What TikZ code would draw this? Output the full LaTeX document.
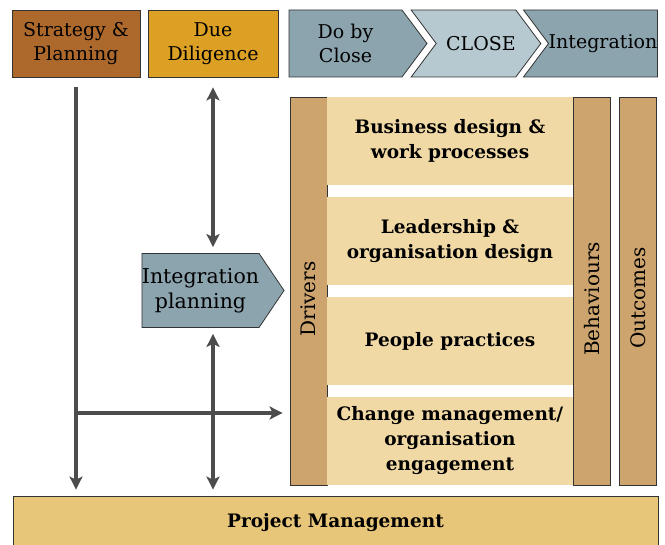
\documentclass[tikz,border=0pt]{standalone}
\usepackage{fontspec}
\setmainfont{DejaVu Serif}
\usetikzlibrary{shapes.symbols,arrows.meta}

\definecolor{strategybrown}{HTML}{AD692C}
\definecolor{diligencegold}{HTML}{DCA024}
\definecolor{phaseblue}{HTML}{8CA4AE}
\definecolor{closeblue}{HTML}{B7C9D0}
\definecolor{bartan}{HTML}{CDA46D}
\definecolor{levercream}{HTML}{F1D9A5}
\definecolor{pmgold}{HTML}{E8C679}
\definecolor{flowgrey}{HTML}{4C4C4C}

\tikzset{
  phase/.style={draw=black!80, line width=0.8pt, minimum height=67pt,
    align=center, inner sep=0pt, font=\fontsize{19}{24}\selectfont},
  step chevron/.style={phase, shape=signal, signal pointer angle=106.5},
  bar/.style={draw=black!80, line width=0.8pt, fill=bartan,
    minimum width=37pt, minimum height=388pt, inner sep=0pt,
    font=\fontsize{20}{22}\selectfont},
  lever/.style={fill=levercream, minimum width=246pt, minimum height=88pt,
    align=center, inner sep=0pt, font=\bfseries\fontsize{18.5}{25}\selectfont},
  flow/.style={draw=flowgrey, line width=3.5pt,
    -{Stealth[length=13pt,width=13pt,inset=3pt]}},
  twoway/.style={flow, {Stealth[length=13pt,width=13pt,inset=3pt]}-{Stealth[length=13pt,width=13pt,inset=3pt]}}
}

\begin{document}
\begin{tikzpicture}[x=1pt,y=-1pt]
  \useasboundingbox (0,0) rectangle (665,545);

  % deal phases along the top
  \node[phase, fill=strategybrown, minimum width=128pt] (strategy) at (76,43.5) {Strategy \&\\Planning};
  \node[phase, fill=diligencegold, minimum width=130pt] (diligence) at (213,43.5) {Due\\Diligence};
  \node[step chevron, fill=phaseblue, signal to=east, minimum width=138pt] (dobyclose) at (345.5,43.5) {Do by\\Close};
  \node[step chevron, fill=closeblue, signal from=west, signal to=east, minimum width=122pt] (close) at (476,43.5) {\hspace*{10pt}CLOSE};
  \node[step chevron, fill=phaseblue, signal from=west, signal to=nowhere, minimum width=134pt] (integration) at (603,43.5) {Integration};

  % planning step
  \node[phase, shape=signal, signal to=east, signal pointer angle=112, fill=phaseblue,
    minimum width=138pt, minimum height=74pt, font=\fontsize{20.5}{25}\selectfont]
    (planning) at (200.5,290.5) {Integration\\planning};

  % drivers, levers, behaviours, outcomes
  \node[bar] (drivers) at (308.5,291) {\rotatebox{90}{Drivers\hspace*{16pt}}};
  \node[lever] (business) at (450,141) {Business design \&\\work processes};
  \node[lever] (leadership) at (450,241) {Leadership \&\\organisation design};
  \node[lever] (people) at (450,341) {People practices};
  \node[lever] (change) at (450,441) {Change management/\\organisation\\engagement};
  \node[bar] (behaviours) at (592,291) {\rotatebox{90}{Behaviours\hspace*{16pt}}};
  \node[bar] (outcomes) at (638,291) {\rotatebox{90}{Outcomes\hspace*{14pt}}};

  \node[phase, fill=pmgold, minimum width=645pt, minimum height=54pt,
    font=\bfseries\fontsize{18.5}{22}\selectfont] (pm) at (335.5,523) {Project Management};

  % arrows
  \coordinate (tap) at (strategy.south |- 0,413);
  \draw[flow, shorten <=10pt, shorten >=6pt] (strategy.south) -- (strategy.south |- pm.north);
  \draw[flow, shorten >=7pt] (tap) -- (tap -| drivers.west);
  \draw[twoway, shorten <=10pt, shorten >=6pt] (diligence.south) -- (diligence.south |- planning.north);
  \draw[twoway, shorten <=6pt, shorten >=6pt] (diligence.south |- planning.south) -- (diligence.south |- pm.north);
\end{tikzpicture}
\end{document}
